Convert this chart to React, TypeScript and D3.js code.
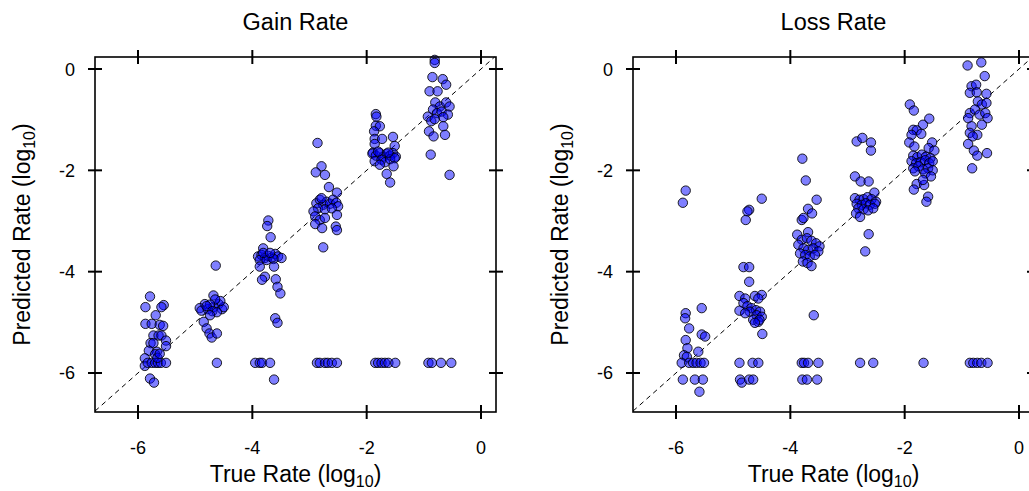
import React from "react";
import * as d3 from "d3";

const panelTitles = ["Gain Rate", "Loss Rate"];
const xTicks = [-6, -4, -2, 0];
const yTicks = [0, -2, -4, -6];

const gainPoints: [number, number][] = [
  [-5.79,-4.49],[-5.87,-4.70],[-5.87,-5.03],[-5.69,-4.86],[-5.55,-4.66],[-5.59,-4.70],[-5.76,-5.03],[-5.62,-5.05],[-5.56,-5.07],[-5.73,-5.26],[-5.64,-5.26],[-5.59,-5.26],[-5.51,-5.36],[-5.51,-5.47],[-5.78,-5.41],[-5.73,-5.41],[-5.81,-5.56],[-5.67,-5.58],[-5.70,-5.63],[-5.88,-5.71],[-5.88,-5.86],[-5.83,-5.80],[-5.76,-5.80],[-5.70,-5.80],[-5.65,-5.80],[-5.60,-5.80],[-5.51,-5.80],[-5.79,-6.11],[-5.72,-6.19],[-5.66,-5.70],[-5.62,-5.62],
  [-4.64,-3.88],[-4.68,-4.47],[-4.83,-4.64],[-4.92,-4.72],[-4.89,-4.77],[-4.78,-4.74],[-4.68,-4.70],[-4.59,-4.64],[-4.53,-4.74],[-4.50,-4.70],[-4.56,-4.58],[-4.65,-4.55],[-4.74,-4.65],[-4.80,-4.68],[-4.70,-4.78],[-4.62,-4.80],[-4.85,-4.99],[-4.80,-5.12],[-4.75,-5.22],[-4.71,-5.30],[-4.62,-5.22],[-4.74,-4.86],[-4.62,-5.80],
  [-3.72,-2.99],[-3.74,-3.10],[-3.68,-3.32],[-3.81,-3.54],[-3.90,-3.70],[-3.84,-3.67],[-3.78,-3.73],[-3.72,-3.69],[-3.66,-3.72],[-3.60,-3.65],[-3.55,-3.70],[-3.49,-3.73],[-3.87,-3.77],[-3.75,-3.77],[-3.63,-3.75],[-3.81,-3.63],[-3.69,-3.63],[-3.87,-3.90],[-3.78,-4.10],[-3.83,-4.16],[-3.59,-4.15],[-3.56,-4.30],[-3.51,-4.43],[-3.60,-4.92],[-3.56,-5.01],[-3.62,-3.90],[-3.62,-6.13],[-3.95,-5.80],[-3.87,-5.80],[-3.83,-5.80],[-3.69,-5.80],
  [-2.86,-1.46],[-2.79,-1.92],[-2.89,-2.04],[-2.73,-2.09],[-2.66,-2.33],[-2.52,-2.44],[-2.88,-2.65],[-2.82,-2.58],[-2.76,-2.68],[-2.70,-2.62],[-2.64,-2.66],[-2.59,-2.58],[-2.53,-2.64],[-2.50,-2.71],[-2.85,-2.75],[-2.73,-2.77],[-2.61,-2.75],[-2.79,-2.55],[-2.93,-2.81],[-2.90,-2.91],[-2.82,-2.98],[-2.73,-2.94],[-2.90,-3.06],[-2.78,-3.14],[-2.54,-3.11],[-2.52,-3.18],[-2.52,-2.88],[-2.76,-3.52],[-2.87,-5.80],[-2.82,-5.80],[-2.73,-5.80],[-2.68,-5.80],[-2.61,-5.80],[-2.52,-5.80],
  [-1.84,-0.89],[-1.83,-0.94],[-1.84,-1.12],[-1.77,-1.13],[-1.87,-1.23],[-1.86,-1.38],[-1.73,-1.38],[-1.54,-1.34],[-1.86,-1.48],[-1.51,-1.52],[-1.89,-1.65],[-1.90,-1.67],[-1.84,-1.71],[-1.77,-1.66],[-1.71,-1.73],[-1.65,-1.67],[-1.59,-1.71],[-1.54,-1.66],[-1.49,-1.73],[-1.86,-1.82],[-1.74,-1.79],[-1.68,-1.84],[-1.59,-1.78],[-1.51,-1.76],[-1.80,-1.63],[-1.62,-1.65],[-1.53,-1.92],[-1.65,-2.07],[-1.59,-2.24],[-1.77,-1.89],[-1.85,-5.80],[-1.80,-5.80],[-1.74,-5.80],[-1.68,-5.80],[-1.62,-5.80],[-1.50,-5.80],
  [-0.81,0.18],[-0.81,0.12],[-0.85,-0.16],[-0.67,-0.20],[-0.61,-0.31],[-0.90,-0.44],[-0.76,-0.44],[-0.80,-0.66],[-0.72,-0.74],[-0.61,-0.66],[-0.55,-0.74],[-0.84,-0.80],[-0.77,-0.87],[-0.69,-0.84],[-0.58,-0.90],[-0.93,-0.94],[-0.87,-1.03],[-0.66,-0.95],[-0.81,-0.99],[-0.91,-1.23],[-0.83,-1.33],[-0.66,-1.13],[-0.63,-1.30],[-0.88,-1.69],[-0.55,-2.09],[-0.92,-5.80],[-0.86,-5.80],[-0.70,-5.80],[-0.52,-5.80],
];

const lossPoints: [number, number][] = [
  [-5.83,-2.40],[-5.88,-2.64],[-5.55,-4.72],[-5.83,-4.82],[-5.84,-4.92],[-5.77,-5.12],[-5.55,-5.24],[-5.49,-5.28],[-5.83,-5.35],[-5.80,-5.51],[-5.86,-5.65],[-5.61,-5.58],[-5.81,-5.68],[-5.90,-5.80],[-5.77,-5.80],[-5.70,-5.80],[-5.64,-5.80],[-5.57,-5.80],[-5.51,-5.80],[-5.88,-6.13],[-5.67,-6.13],[-5.53,-6.13],[-5.59,-6.37],
  [-4.50,-2.56],[-4.72,-2.78],[-4.75,-2.81],[-4.78,-2.98],[-4.82,-3.91],[-4.72,-3.91],[-4.72,-4.20],[-4.89,-4.48],[-4.79,-4.53],[-4.62,-4.48],[-4.50,-4.46],[-4.56,-4.53],[-4.82,-4.62],[-4.75,-4.68],[-4.68,-4.72],[-4.60,-4.76],[-4.53,-4.79],[-4.71,-4.79],[-4.59,-4.86],[-4.50,-4.89],[-4.65,-4.95],[-4.56,-4.99],[-4.89,-4.77],[-4.79,-4.82],[-4.54,-4.95],[-4.62,-5.01],[-4.49,-5.23],[-4.89,-5.80],[-4.66,-5.80],[-4.56,-5.80],[-4.88,-6.13],[-4.85,-6.19],[-4.72,-6.13],[-4.65,-6.13],
  [-3.79,-1.77],[-3.73,-2.20],[-3.54,-2.58],[-3.69,-2.76],[-3.62,-2.85],[-3.80,-2.98],[-3.77,-2.94],[-3.69,-3.22],[-3.88,-3.27],[-3.80,-3.37],[-3.71,-3.34],[-3.63,-3.39],[-3.55,-3.44],[-3.49,-3.50],[-3.86,-3.47],[-3.77,-3.54],[-3.69,-3.57],[-3.60,-3.54],[-3.51,-3.60],[-3.83,-3.64],[-3.74,-3.67],[-3.66,-3.70],[-3.57,-3.67],[-3.78,-3.80],[-3.70,-3.83],[-3.63,-3.89],[-3.59,-4.86],[-3.80,-5.80],[-3.76,-5.80],[-3.69,-5.80],[-3.51,-5.80],[-3.79,-6.13],[-3.71,-6.13],[-3.53,-6.13],
  [-2.84,-1.43],[-2.74,-1.36],[-2.59,-1.45],[-2.59,-1.61],[-2.87,-2.12],[-2.77,-2.22],[-2.63,-2.22],[-2.53,-2.44],[-2.87,-2.55],[-2.79,-2.58],[-2.72,-2.57],[-2.65,-2.53],[-2.58,-2.57],[-2.50,-2.62],[-2.84,-2.66],[-2.75,-2.68],[-2.68,-2.65],[-2.61,-2.68],[-2.52,-2.66],[-2.81,-2.75],[-2.72,-2.77],[-2.64,-2.79],[-2.55,-2.75],[-2.85,-2.85],[-2.78,-2.92],[-2.63,-3.26],[-2.69,-3.60],[-2.78,-5.80],[-2.55,-5.80],
  [-1.91,-0.70],[-1.84,-0.82],[-1.57,-0.98],[-1.68,-1.10],[-1.85,-1.20],[-1.79,-1.21],[-1.88,-1.30],[-1.71,-1.28],[-1.92,-1.45],[-1.52,-1.45],[-1.83,-1.53],[-1.58,-1.56],[-1.48,-1.61],[-1.85,-1.71],[-1.78,-1.74],[-1.70,-1.69],[-1.63,-1.73],[-1.55,-1.76],[-1.88,-1.82],[-1.80,-1.86],[-1.72,-1.84],[-1.64,-1.80],[-1.57,-1.86],[-1.51,-1.82],[-1.85,-1.96],[-1.76,-1.92],[-1.68,-1.98],[-1.59,-1.96],[-1.51,-2.00],[-1.82,-2.02],[-1.64,-2.06],[-1.54,-2.12],[-1.79,-2.27],[-1.66,-2.29],[-1.84,-2.38],[-1.68,-2.19],[-1.59,-2.52],[-1.62,-2.62],[-1.67,-5.80],
  [-0.90,0.07],[-0.66,0.13],[-0.60,-0.14],[-0.83,-0.34],[-0.75,-0.31],[-0.86,-0.47],[-0.74,-0.46],[-0.57,-0.49],[-0.72,-0.64],[-0.65,-0.70],[-0.57,-0.67],[-0.86,-0.87],[-0.77,-0.80],[-0.69,-0.90],[-0.59,-0.87],[-0.89,-0.97],[-0.55,-0.97],[-0.83,-1.13],[-0.65,-1.10],[-0.86,-1.26],[-0.73,-1.30],[-0.81,-1.33],[-0.89,-1.48],[-0.79,-1.61],[-0.73,-1.71],[-0.56,-1.66],[-0.82,-1.96],[-0.86,-5.80],[-0.80,-5.80],[-0.73,-5.80],[-0.66,-5.80],[-0.55,-5.80],
];

const xDomain: [number, number] = [-6.752, 0.262];
const yDomain: [number, number] = [-6.77, 0.237];
const FONT = "'Liberation Sans', Arial, Helvetica, sans-serif";

function Panel({ left, title, points }: { left: number; title: string; points: [number, number][] }) {
  const top = 57, bottom = 412, width = 401;
  const x = d3.scaleLinear().domain(xDomain).range([left, left + width]);
  const y = d3.scaleLinear().domain(yDomain).range([bottom, top]);
  const lo = Math.max(xDomain[0], yDomain[0]);
  const hi = Math.min(xDomain[1], yDomain[1]);
  const cx = left + width / 2;
  const ymid = (top + bottom) / 2;
  return (
    <g>
      <text x={cx} y={30} textAnchor="middle" fontSize={23.5} fontFamily={FONT}>{title}</text>
      <line x1={x(lo)} y1={y(lo)} x2={x(hi)} y2={y(hi)} stroke="#000" strokeWidth={1} strokeDasharray="5,4" />
      {points.map((p, i) => (
        <circle key={i} cx={x(p[0])} cy={y(p[1])} r={4.7} fill="#0000ff" fillOpacity={0.5} stroke="#000" strokeOpacity={0.85} strokeWidth={1} />
      ))}
      <rect x={left} y={top} width={width} height={bottom - top} fill="none" stroke="#000" strokeWidth={1.6} />
      {xTicks.map((t) => (
        <g key={"x" + t}>
          <line x1={x(t)} x2={x(t)} y1={bottom - 7} y2={bottom + 7} stroke="#000" strokeWidth={2} />
          <line x1={x(t)} x2={x(t)} y1={top - 7} y2={top + 7} stroke="#000" strokeWidth={2} />
          <text x={x(t)} y={454} textAnchor="middle" fontSize={18} fontFamily={FONT}>{t}</text>
        </g>
      ))}
      {yTicks.map((t) => (
        <g key={"y" + t}>
          <line x1={left - 7} x2={left + 7} y1={y(t)} y2={y(t)} stroke="#000" strokeWidth={2} />
          <line x1={left + width - 7} x2={left + width + 7} y1={y(t)} y2={y(t)} stroke="#000" strokeWidth={2} />
          <text x={left - 20} y={y(t) + 6.5} textAnchor="end" fontSize={18} fontFamily={FONT}>{t}</text>
        </g>
      ))}
      <text x={cx} y={482} textAnchor="middle" fontSize={23} fontFamily={FONT}>
        True Rate (log<tspan fontSize={16} dy={5}>10</tspan><tspan dy={-5}>)</tspan>
      </text>
      <text transform={`translate(${left - 65},${ymid}) rotate(-90)`} textAnchor="middle" fontSize={23} fontFamily={FONT}>
        Predicted Rate (log<tspan fontSize={16} dy={5}>10</tspan><tspan dy={-5}>)</tspan>
      </text>
    </g>
  );
}

export default function App() {
  return (
    <svg width={1029} height={491} style={{ position: "fixed", left: 0, top: 0, background: "#fff" }}>
      <rect width={1029} height={491} fill="#fff" />
      <Panel left={95} title={panelTitles[0]} points={gainPoints} />
      <Panel left={633} title={panelTitles[1]} points={lossPoints} />
    </svg>
  );
}
